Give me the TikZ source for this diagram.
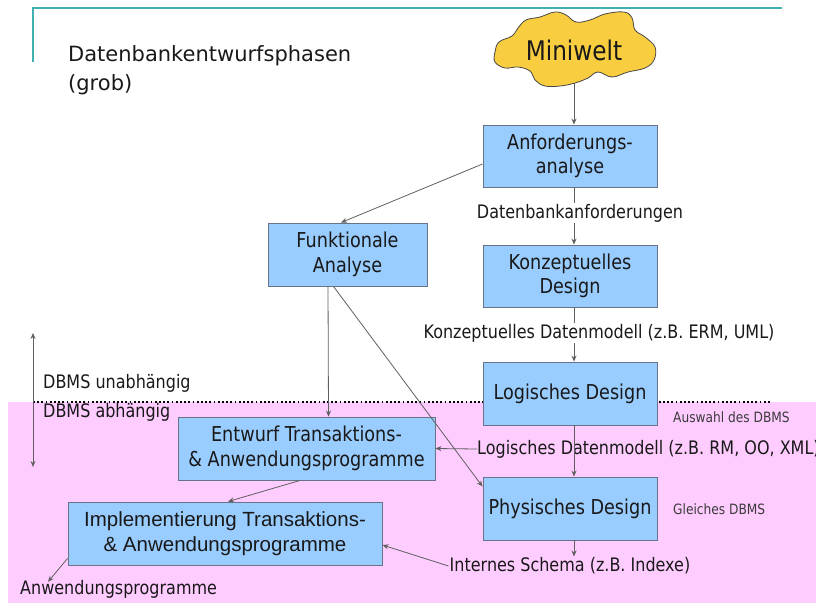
\documentclass[tikz,border=0pt]{standalone}
\usepackage{fontspec}
\setmainfont{DejaVu Sans}
\newfontfamily\tah[FakeStretch=0.86]{DejaVu Sans}
\newfontfamily\ari{Liberation Sans}
\usetikzlibrary{arrows.meta}
\definecolor{boxblue}{RGB}{153,204,255}
\definecolor{boxline}{RGB}{105,115,135}
\definecolor{pinkbg}{RGB}{255,204,255}
\definecolor{tealline}{RGB}{64,176,176}
\definecolor{cloudy}{RGB}{248,206,64}
\definecolor{linegray}{RGB}{95,95,95}
\definecolor{txt}{RGB}{25,25,25}
\begin{document}
\begin{tikzpicture}[x=1pt,y=-1pt,
 box/.style={draw=boxline, line width=0.9pt, fill=boxblue, align=center, inner sep=0pt, text=txt, font=\tah\fontsize{20.5}{24.5}\selectfont},
 lbl/.style={text=txt, font=\tah\fontsize{18.6}{22}\selectfont, inner sep=1pt},
 smalllbl/.style={text=txt!85, font=\tah\fontsize{14.2}{16}\selectfont, inner sep=0pt},
 arr/.style={draw=linegray, line width=0.8pt, -{Stealth[length=6pt,width=5pt]}},
 ln/.style={draw=linegray, line width=0.8pt}]
\useasboundingbox (0,0) rectangle (816,603);
% pink region
\fill[pinkbg] (8,402) rectangle (816,603);
% teal frame line
\draw[tealline, line width=1.8pt] (33,62) -- (33,8) -- (782,8);
% title
\node[anchor=north west, align=left, inner sep=0pt, text=txt, font=\fontsize{21}{29}\selectfont] (title) at (68,45) {Datenbankentwurfsphasen\\(grob)};
% dotted separator
\coordinate (dl) at (33,402);
\coordinate (dr) at (772,402);
\draw[line width=1.8pt, dash pattern=on 1.8pt off 2.4pt] (dl) -- (dr);
% left double arrow
\coordinate (dtop) at (33,333);
\coordinate (dbot) at (33,467);
\draw[draw=linegray, line width=0.8pt, {Stealth[length=6pt,width=5pt]}-{Stealth[length=6pt,width=5pt]}] (dtop) -- (dbot);
\node[lbl, anchor=west, inner sep=0pt] (unab) at (43,383) {DBMS unabhängig};
\node[lbl, anchor=west, inner sep=0pt] (abh) at (43,412) {DBMS abhängig};
% cloud
\draw[fill=cloudy, draw=gray!55!black, line width=0.8pt] plot[smooth cycle, tension=0.65] coordinates {
 (495,52) (499,42) (512,36) (518,28) (526,20) (540,17) (555,12) (566,15) (576,22) (590,20) (605,14) (624,12) (632,18) (635,30) (645,37) (655,47) (654,60) (645,68) (628,72) (612,77) (598,72) (588,78) (575,83) (560,86) (545,86) (535,80) (530,71) (518,67) (505,68) (495,62)};
\node[text=txt, font=\tah\fontsize{27}{30}\selectfont, inner sep=0pt] (mw) at (574,50) {Miniwelt};
\coordinate (mwb) at (574,83);
% boxes
\node[box, minimum width=174pt, minimum height=62pt] (anf) at (570,156) {Anforderungs-\\analyse};
\node[box, minimum width=174pt, minimum height=62pt] (konz) at (570,276) {Konzeptuelles\\Design};
\node[box, minimum width=174pt, minimum height=63pt] (log) at (570,393.5) {Logisches Design};
\node[box, minimum width=174pt, minimum height=63pt] (phys) at (570,508.5) {Physisches Design};
\node[box, minimum width=159pt, minimum height=63pt] (funk) at (347.5,254.5) {Funktionale\\Analyse};
\node[box, minimum width=257pt, minimum height=63pt] (ent) at (306.5,448.5) {Entwurf Transaktions-\\\& Anwendungsprogramme};
\node[box, minimum width=314pt, minimum height=63pt, font=\ari\fontsize{20.5}{24.5}\selectfont] (impl) at (225,533.5) {Implementierung Transaktions-\\\& Anwendungsprogramme};
% labels
\node[lbl] (dbanf) at (580,213) {Datenbankanforderungen};
\node[lbl] (kdm) at (599,333) {Konzeptuelles Datenmodell (z.B. ERM, UML)};
\node[lbl, anchor=west, inner sep=0pt] (ldm) at (477,449) {Logisches Datenmodell (z.B. RM, OO, XML)};
\node[lbl] (ints) at (570,566) {Internes Schema (z.B. Indexe)};
\node[lbl, anchor=west, inner sep=0pt] (anw) at (20,589) {Anwendungsprogramme};
\node[smalllbl, anchor=west] (ausw) at (673,417) {Auswahl des DBMS};
\node[smalllbl, anchor=west] (gleich) at (673,509) {Gleiches DBMS};
% connectors
\draw[arr] (mwb) -- ([xshift=4pt]anf.north);
\draw[ln] ([xshift=4pt]anf.south) -- ([xshift=4pt]anf.south |- dbanf.north);
\draw[arr] ([xshift=4pt]konz.north |- dbanf.south) -- ([xshift=4pt]konz.north);
\draw[ln] ([xshift=4pt]konz.south) -- ([xshift=4pt]konz.south |- kdm.north);
\draw[arr] ([xshift=4pt]log.north |- kdm.south) -- ([xshift=4pt]log.north);
\draw[arr] ([xshift=4pt]log.south) -- ([xshift=4pt]phys.north);
\draw[arr] ([xshift=4pt]phys.south) -- ([xshift=4pt]phys.south |- ints.north);
\draw[arr] ([yshift=-8pt]anf.west) -- ([xshift=-6.5pt]funk.north);
\draw[arr] ([xshift=-19.5pt]funk.south) -- ([xshift=22pt]ent.north);
\draw[arr] ([xshift=-14pt]funk.south) -- ([yshift=-10pt]phys.north west);
\draw[arr] (ldm.west) -- (ent.east);
\draw[arr] ([xshift=-6.5pt]ent.south) -- ([xshift=3pt]impl.north);
\draw[arr] (ints.west) -- ([yshift=-11.5pt]impl.east);
\draw[arr] ([yshift=7pt]impl.south west) -- ([xshift=28pt,yshift=-2pt]anw.north west);
\end{tikzpicture}
\end{document}
